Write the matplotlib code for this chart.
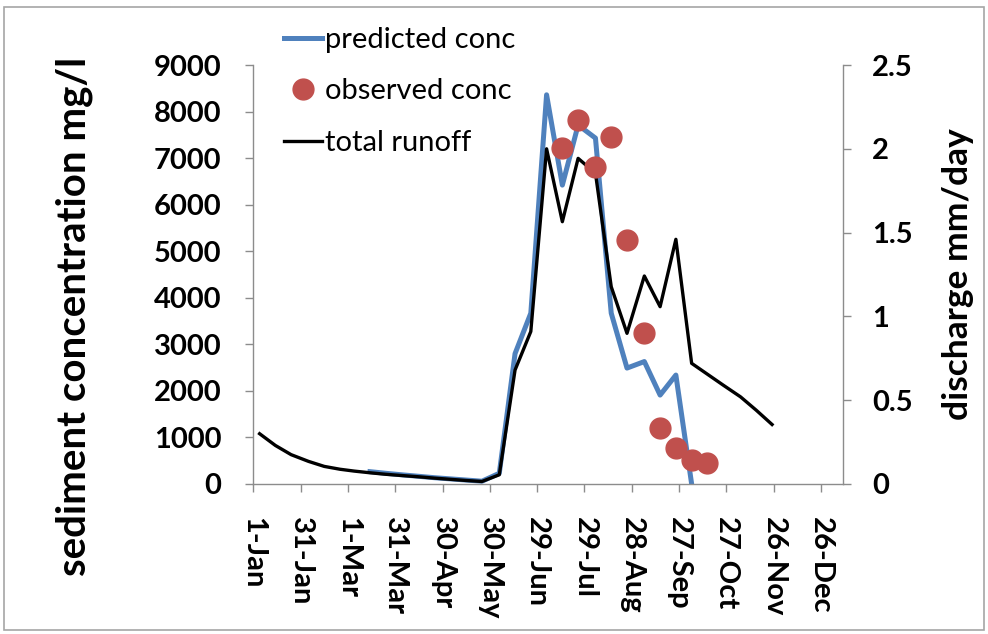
import matplotlib
matplotlib.use('Agg')
import matplotlib.pyplot as plt
import matplotlib.dates as mdates
from matplotlib.patches import Rectangle
import datetime as dt

plt.rcParams['font.family'] = ['Lato', 'DejaVu Sans']

YEAR = 2000  # leap year: ticks every 30 days give 1-Mar, 31-Mar, ...

# ---- data (dekadal dates, mm-dd) ----
runoff_dates = ['01-05', '01-15', '01-25', '02-05', '02-15', '02-25', '03-05', '03-15', '03-25',
                '04-05', '04-15', '04-25', '05-05', '05-15', '05-25', '06-05', '06-15', '06-25',
                '07-05', '07-15', '07-25', '08-05', '08-15', '08-25', '09-05', '09-15', '09-25',
                '10-05', '10-15', '10-25', '11-05', '11-15', '11-25']
total_runoff = [0.30, 0.23, 0.175, 0.135, 0.105, 0.088, 0.077, 0.067, 0.058,
                0.050, 0.043, 0.035, 0.028, 0.021, 0.015, 0.055, 0.68, 0.91,
                2.00, 1.565, 1.943, 1.854, 1.177, 0.899, 1.241, 1.058, 1.46,
                0.72, 0.655, 0.59, 0.52, 0.44, 0.355]

pred_dates = ['03-15', '03-25', '04-05', '04-15', '04-25', '05-05', '05-15', '05-25', '06-05',
              '06-15', '06-25', '07-05', '07-15', '07-25', '08-05', '08-15', '08-25', '09-05',
              '09-15', '09-25', '10-05']
predicted_conc = [265, 230, 195, 165, 135, 110, 85, 60, 230,
                  2800, 3670, 8360, 6420, 7710, 7430, 3670, 2490, 2630,
                  1910, 2340, 0]

obs_dates = ['07-15', '07-25', '08-05', '08-15', '08-25', '09-05', '09-15', '09-25', '10-05', '10-15']
observed_conc = [7210, 7820, 6800, 7450, 5240, 3240, 1200, 770, 520, 460]

conc_ticks = [0, 1000, 2000, 3000, 4000, 5000, 6000, 7000, 8000, 9000]
discharge_ticks = [0, 0.5, 1, 1.5, 2, 2.5]
discharge_tick_labels = ['0', '0.5', '1', '1.5', '2', '2.5']
x_tick_start = '01-01'
x_tick_step_days = 30
x_tick_count = 13


def to_date(s):
    return dt.datetime.strptime(f'{YEAR}-{s}', '%Y-%m-%d')


rd = [to_date(s) for s in runoff_dates]
pdts = [to_date(s) for s in pred_dates]
od = [to_date(s) for s in obs_dates]

GRAY = '#8c8c8c'
BLUE = '#4F81BD'
RED = '#C0504D'

fig = plt.figure(figsize=(9.88, 6.34), dpi=100)
ax = fig.add_axes([253.3 / 988, 1 - 484 / 634, (842.7 - 253.3) / 988, (484 - 65) / 634])

l_pred, = ax.plot(pdts, predicted_conc, color=BLUE, lw=3.6, label='predicted conc', zorder=2)
x0 = to_date(x_tick_start)
ax.set_xlim(x0, x0 + dt.timedelta(days=373.8))
ax.set_ylim(0, 9000)
ax.set_yticks(conc_ticks)
ax.set_xticks([x0 + dt.timedelta(days=x_tick_step_days * i) for i in range(x_tick_count)])
ax.xaxis.set_major_formatter(mdates.DateFormatter('%-d-%b'))

ax2 = ax.twinx()
l_run, = ax2.plot(rd, total_runoff, color='black', lw=2.4, label='total runoff')
ax2.set_ylim(0, 2.5)
ax2.set_yticks(discharge_ticks)
ax2.set_yticklabels(discharge_tick_labels)

ax3 = ax.twinx()
l_obs, = ax3.plot(od, observed_conc, 'o', ms=15, color=RED, mec=RED, label='observed conc')
ax3.set_ylim(0, 9000)
ax3.axis('off')

for s in ['top', 'right']:
    ax.spines[s].set_visible(False)
for s in ['top', 'left', 'bottom']:
    ax2.spines[s].set_visible(False)
ax.spines['left'].set_color(GRAY)
ax.spines['bottom'].set_color(GRAY)
ax2.spines['right'].set_color(GRAY)
for sp in (ax.spines['left'], ax.spines['bottom'], ax2.spines['right']):
    sp.set_linewidth(1.0)

ax.tick_params(axis='y', direction='out', length=6, width=1, color=GRAY, labelsize=21, pad=17)
ax.tick_params(axis='x', direction='out', length=6, width=1, color=GRAY, labelsize=21,
               pad=18, labelrotation=270)
ax2.tick_params(axis='y', direction='out', length=6, width=1, color=GRAY, labelsize=21, pad=15)
for lab in ax.get_yticklabels() + ax.get_xticklabels() + ax2.get_yticklabels():
    lab.set_fontweight('bold')
for lab in ax.get_xticklabels():
    lab.set_va('top')
    lab.set_ha('center')

ax.set_ylabel('sediment concentration mg/l', fontsize=29, fontweight='bold')
ax.yaxis.set_label_coords(-0.272, 0.40)
ax2.set_ylabel('discharge mm/day', fontsize=25.5, fontweight='bold')
ax2.yaxis.set_label_coords(1.168, 0.5)

fig.legend([l_pred, l_obs, l_run], ['predicted conc', 'observed conc', 'total runoff'],
           loc='upper left', bbox_to_anchor=(284 / 988, 1 - 27 / 634), frameon=False,
           fontsize=21, handlelength=1.3, handletextpad=0.1, labelspacing=0.87,
           borderpad=0, borderaxespad=0)

fig.patches.append(Rectangle((4 / 988, 4 / 634), 980 / 988, 623 / 634, transform=fig.transFigure,
                             fill=False, ec='#a6a6a6', lw=1.2))

fig.savefig('out.png', dpi=100)
